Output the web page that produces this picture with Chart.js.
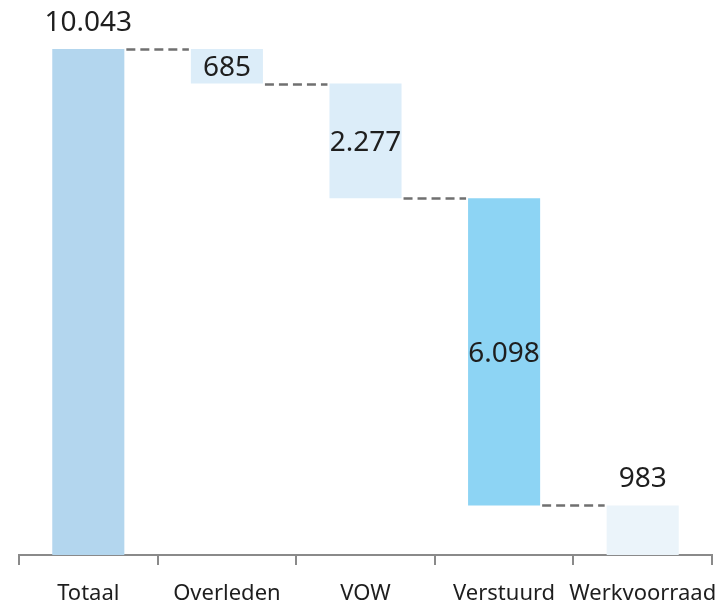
<!DOCTYPE html>
<html>
<head>
<meta charset="utf-8">
<script src="https://cdn.jsdelivr.net/npm/chart.js@4"></script>
<style>
  html, body { margin: 0; padding: 0; background: #ffffff; }
  #wrap { width: 726px; height: 604px; }
</style>
</head>
<body>
<div id="wrap"><canvas id="myChart" width="726" height="604"></canvas></div>
<script>
// waterfall data
const categories = ['Totaal', 'Overleden', 'VOW', 'Verstuurd', 'Werkvoorraad'];
const values = [10043, 685, 2277, 6098, 983];
const valueLabels = ['10.043', '685', '2.277', '6.098', '983'];
const barColors = ['#b3d6ee', '#dcedf9', '#dcedf9', '#8dd4f4', '#ebf4fa'];
const labelInside = [false, true, true, true, false];

// floating ranges: first bar is the total, the rest step down from it
let ranges = [];
let level = values[0];
ranges.push([0, values[0]]);
for (let i = 1; i < values.length; i++) {
    ranges.push([level - values[i], level]);
    level = level - values[i];
}

const waterfallExtras = {
    id: 'waterfallExtras',
    afterDatasetsDraw(chart) {
        const ctx = chart.ctx;
        const meta = chart.getDatasetMeta(0);
        const y = chart.scales.y;
        ctx.save();
        // dashed connectors
        ctx.strokeStyle = '#707070';
        ctx.lineWidth = 2.5;
        ctx.setLineDash([9, 5]);
        for (let i = 0; i < meta.data.length - 1; i++) {
            let a = meta.data[i], b = meta.data[i + 1];
            let lvl = i == 0 ? ranges[0][1] : ranges[i][0];
            let py = Math.round(y.getPixelForValue(lvl)) + 0.5;
            ctx.beginPath();
            ctx.moveTo(a.x + a.width / 2 + 2, py);
            ctx.lineTo(b.x - b.width / 2 - 2, py);
            ctx.stroke();
        }
        ctx.setLineDash([]);
        // value labels
        ctx.fillStyle = '#1e1e1e';
        ctx.font = '28px "Noto Sans"';
        ctx.textAlign = 'center';
        ctx.textBaseline = 'middle';
        meta.data.forEach((bar, i) => {
            let top = y.getPixelForValue(ranges[i][1]);
            let bottom = y.getPixelForValue(ranges[i][0]);
            let ty = labelInside[i] ? (top + bottom) / 2 + 2 : top - 26;
            ctx.fillText(valueLabels[i], bar.x, ty);
        });
        ctx.restore();
    }
};

var ctx = document.getElementById('myChart');
var chart = new Chart(ctx, {
    type: 'bar',
    data: {
        labels: categories,
        datasets: [{
            data: ranges,
            backgroundColor: barColors,
            borderWidth: 0,
            categoryPercentage: 1.0,
            barPercentage: 0.52
        }]
    },
    options: {
        responsive: false,
        animation: false,
        layout: { padding: { left: 19, right: 14, top: 26, bottom: 0 } },
        plugins: {
            legend: { display: false },
            tooltip: { enabled: false }
        },
        scales: {
            y: {
                display: false,
                min: 0,
                max: 10500
            },
            x: {
                offset: true,
                afterFit: (scale) => {
                    scale.height = 49;
                    scale.paddingLeft = 0;
                    scale.paddingRight = 0;
                },
                border: { display: true, color: '#8a8a8a', width: 2 },
                grid: {
                    display: true,
                    offset: true,
                    drawOnChartArea: false,
                    drawTicks: true,
                    tickLength: 10,
                    color: '#8a8a8a',
                    lineWidth: 2
                },
                ticks: {
                    color: '#1e1e1e',
                    font: { family: '"Noto Sans"', size: 22 },
                    padding: 16,
                    maxRotation: 0,
                    autoSkip: false
                }
            }
        }
    },
    plugins: [waterfallExtras]
});
</script>
</body>
</html>
